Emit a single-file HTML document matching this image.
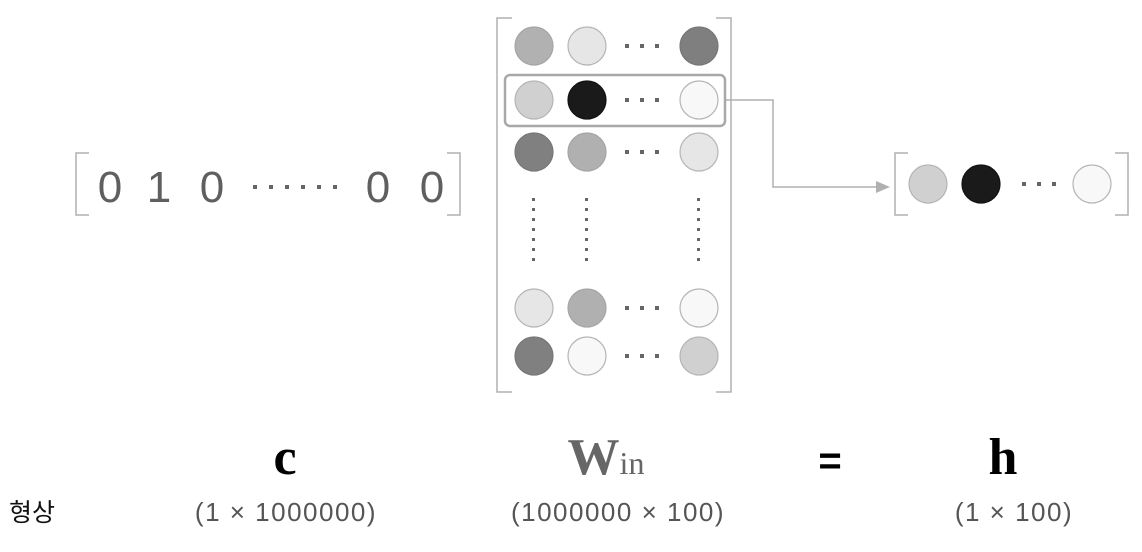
<!DOCTYPE html>
<html><head><meta charset="utf-8"><style>
html,body{margin:0;padding:0;background:#fff;}
svg{display:block;}
</style></head><body>
<svg width="1142" height="552" viewBox="0 0 1142 552" xmlns="http://www.w3.org/2000/svg">
<g fill="none" stroke="#b0b0b0" stroke-width="1.5">
<path d="M89,153 H76 V215 H89"/>
<path d="M447,153 H460 V215 H447"/>
<path d="M512,18 H497 V392 H512"/>
<path d="M716,18 H731 V392 H716"/>
<path d="M908,153 H895 V215 H908"/>
<path d="M1115,153 H1128 V215 H1115"/>
<path d="M725,100 H773 V187 H878"/>
</g>
<polygon points="876,181 890,187 876,193" fill="#b0b0b0"/>
<rect x="505" y="75" width="220" height="51" rx="5" fill="none" stroke="#a8a8a8" stroke-width="2.5"/>
<g font-family="Liberation Sans, sans-serif" font-size="44" fill="#5f5f5f" text-anchor="middle">
<text x="110" y="202">0</text><text x="159" y="202">1</text><text x="212" y="202">0</text>
<text x="378" y="202">0</text><text x="432" y="202">0</text>
</g>
<g fill="#666">
<rect x="253" y="185" width="4" height="4"/><rect x="269" y="185" width="4" height="4"/><rect x="285" y="185" width="4" height="4"/><rect x="301" y="185" width="4" height="4"/><rect x="317" y="185" width="4" height="4"/><rect x="333" y="185" width="4" height="4"/>
</g>
<g stroke-width="1.2">
<circle cx="534" cy="46" r="19" fill="#b1b1b1" stroke="#a5a5a5"/>
<circle cx="587" cy="46" r="19" fill="#e6e6e6" stroke="#b5b5b5"/>
<circle cx="699" cy="46" r="19" fill="#7f7f7f" stroke="#777"/>
<circle cx="534" cy="100" r="19" fill="#d0d0d0" stroke="#b5b5b5"/>
<circle cx="587" cy="100" r="19" fill="#1a1a1a" stroke="#111"/>
<circle cx="699" cy="100" r="19" fill="#f7f8f7" stroke="#b5b5b5"/>
<circle cx="534" cy="152" r="19" fill="#808080" stroke="#777"/>
<circle cx="587" cy="152" r="19" fill="#b0b0b0" stroke="#a5a5a5"/>
<circle cx="699" cy="152" r="19" fill="#e6e6e6" stroke="#b5b5b5"/>
<circle cx="534" cy="308" r="19" fill="#e6e6e6" stroke="#b5b5b5"/>
<circle cx="587" cy="308" r="19" fill="#b0b0b0" stroke="#a5a5a5"/>
<circle cx="699" cy="308" r="19" fill="#f7f8f7" stroke="#b5b5b5"/>
<circle cx="534" cy="356" r="19" fill="#808080" stroke="#777"/>
<circle cx="587" cy="356" r="19" fill="#f7f8f7" stroke="#b5b5b5"/>
<circle cx="699" cy="356" r="19" fill="#d0d0d0" stroke="#b5b5b5"/>
<circle cx="928" cy="184" r="19" fill="#d0d0d0" stroke="#b5b5b5"/>
<circle cx="981" cy="184" r="19" fill="#1a1a1a" stroke="#111"/>
<circle cx="1092" cy="184" r="19" fill="#f7f8f7" stroke="#b5b5b5"/>
</g>
<g fill="#666">
<rect x="625" y="44" width="4" height="4"/><rect x="640" y="44" width="4" height="4"/><rect x="655" y="44" width="4" height="4"/>
<rect x="625" y="98" width="4" height="4"/><rect x="640" y="98" width="4" height="4"/><rect x="655" y="98" width="4" height="4"/>
<rect x="625" y="150" width="4" height="4"/><rect x="640" y="150" width="4" height="4"/><rect x="655" y="150" width="4" height="4"/>
<rect x="625" y="306" width="4" height="4"/><rect x="640" y="306" width="4" height="4"/><rect x="655" y="306" width="4" height="4"/>
<rect x="625" y="354" width="4" height="4"/><rect x="640" y="354" width="4" height="4"/><rect x="655" y="354" width="4" height="4"/>
<rect x="1022" y="182" width="4" height="4"/><rect x="1037" y="182" width="4" height="4"/><rect x="1052" y="182" width="4" height="4"/>
</g>
<g fill="#666">
<g id="vd">
<rect x="532" y="198" width="3" height="3"/><rect x="532" y="208" width="3" height="3"/><rect x="532" y="218" width="3" height="3"/><rect x="532" y="228" width="3" height="3"/><rect x="532" y="238" width="3" height="3"/><rect x="532" y="248" width="3" height="3"/><rect x="532" y="258" width="3" height="3"/>
</g>
<use href="#vd" x="53"/>
<use href="#vd" x="165"/>
</g>
<g font-family="Liberation Serif, serif" font-weight="bold" text-anchor="middle">
<text x="285" y="474" font-size="52" fill="#000">c</text>
<text x="606" y="474" font-size="52" fill="#666">W<tspan font-size="32" font-weight="normal">in</tspan></text>
<text x="1003" y="474" font-size="52" fill="#000">h</text>
</g>
<text x="830" y="474" font-family="Liberation Sans, sans-serif" font-size="40" font-weight="bold" fill="#000" text-anchor="middle">=</text>
<g font-family="Liberation Sans, sans-serif" font-size="26" fill="#555" text-anchor="middle" letter-spacing="1.5">
<text x="286" y="521">(1 × 1000000)</text>
<text x="618" y="521">(1000000 × 100)</text>
<text x="1014" y="521">(1 × 100)</text>
</g>
<text x="9" y="521" font-family="Liberation Sans, 'Noto Sans CJK KR', sans-serif" font-size="25" fill="#111">형상</text>
</svg>
</body></html>
